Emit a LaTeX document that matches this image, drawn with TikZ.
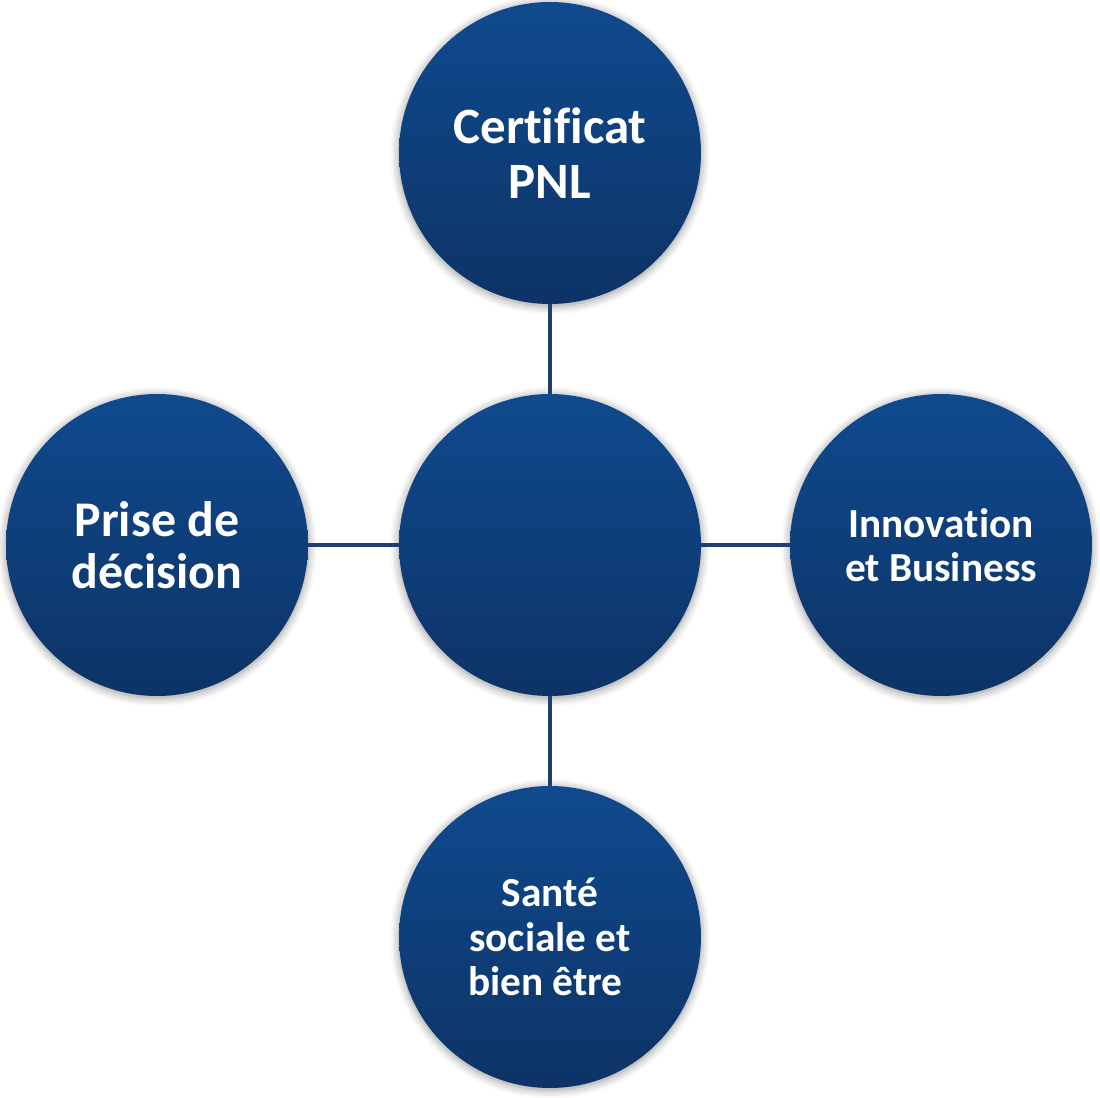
\documentclass[tikz,border=0pt]{standalone}
\usepackage{fontspec}
\setmainfont{Carlito}[Ligatures=NoCommon]
\usetikzlibrary{shadows.blur}
\definecolor{bubbletop}{HTML}{0F4A8E}
\definecolor{bubblebot}{HTML}{0D3366}
\definecolor{linkblue}{HTML}{1F3F6E}
\begin{document}
\begin{tikzpicture}[x=0.02cm, y=0.02cm,
    bubble/.style={circle, minimum size=6.04cm, inner sep=0pt, draw=none,
        top color=bubbletop, bottom color=bubblebot, text=white, align=center,
        blur shadow={shadow xshift=0pt, shadow yshift=-1pt, shadow blur radius=5pt, shadow opacity=45}},
    link/.style={draw=linkblue, line width=2.2pt}]
    \useasboundingbox (0,0) rectangle (1100,1098);   % page size
    \node [bubble] (hub) at (550,553) {};                                 % centre circle
    \node [bubble, font=\bfseries\fontsize{29}{31}\selectfont] (pnl) at (550,945) {Certificat\\PNL};          % top
    \node [bubble, font=\bfseries\fontsize{28.4}{29.5}\selectfont] (decision) at (157,553) {Prise de\\d\'ecision}; % left
    \node [bubble, font=\bfseries\fontsize{23.5}{25}\selectfont] (business) at (941,553) {Innovation\\et Business}; % right
    \node [bubble, font=\bfseries\fontsize{23.5}{25.5}\selectfont] (sante) at (550,161) {Sant\'e\\sociale et\\bien \^etre\hspace*{0.23em}}; % bottom
    \draw [link] (hub) -- (pnl);        % up
    \draw [link] (hub) -- (decision);   % left
    \draw [link] (hub) -- (business);   % right
    \draw [link] (hub) -- (sante);      % down
\end{tikzpicture}
\end{document}
